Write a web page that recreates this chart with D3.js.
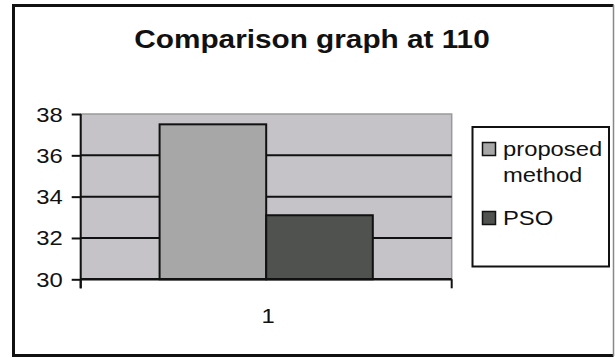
<!DOCTYPE html>
<html>
<head>
<meta charset="utf-8">
<script src="https://cdn.jsdelivr.net/npm/d3@7"></script>
<style>
  html, body { margin: 0; padding: 0; background: #fff; }
  svg { display: block; font-family: "Liberation Sans", Arial, sans-serif; }
</style>
</head>
<body>
<svg id="chart" width="615" height="358"></svg>
<script>
// Chart data
const categories = ["1"];
const seriesNames = ["proposed method", "PSO"];
const proposedValues = [37.5];
const psoValues = [33.1];
const yTicks = [30, 32, 34, 36, 38];
const gridValues = [32, 34, 36];
const seriesColors = ["#a7a7a7", "#4f524f"];
const titleText = "Comparison graph at 110";

// Text in this chart is set slightly wide
const SX = 1.19;

const svg = d3.select("#chart");

// Outer frame
svg.append("rect")
  .attr("x", 0).attr("y", 0).attr("width", 615).attr("height", 358)
  .attr("fill", "#fff");
svg.append("path")
  .attr("d", "M613.5,5.5 L13.5,5.5 L13.5,355.5 L613.5,355.5")
  .attr("fill", "none").attr("stroke", "#111").attr("stroke-width", 3);
svg.append("line")
  .attr("x1", 613.5).attr("x2", 613.5).attr("y1", 5).attr("y2", 356)
  .attr("stroke", "#888").attr("stroke-width", 1.5);

// Title
svg.append("text")
  .attr("transform", `translate(312,48) scale(${SX},1)`)
  .attr("text-anchor", "middle")
  .attr("font-size", 25)
  .attr("font-weight", "bold")
  .attr("fill", "#111")
  .text(titleText);

// Plot area
const plot = { left: 80.7, right: 451.7, top: 114, bottom: 279.3 };

const y = d3.scaleLinear().domain([30, 38]).range([plot.bottom, plot.top]);
const x0 = d3.scaleBand().domain(categories)
  .range([plot.left, plot.right]).paddingInner(0).paddingOuter(0.37);
const x1 = d3.scaleBand().domain(seriesNames)
  .range([0, x0.bandwidth()]).padding(0);
const color = d3.scaleOrdinal().domain(seriesNames).range(seriesColors);

const rows = categories.map((c, i) => ({
  category: c,
  values: [
    { name: seriesNames[0], value: proposedValues[i] },
    { name: seriesNames[1], value: psoValues[i] }
  ]
}));

svg.append("rect")
  .attr("x", plot.left).attr("y", plot.top)
  .attr("width", plot.right - plot.left).attr("height", plot.bottom - plot.top)
  .attr("fill", "#c5c3c7")
  .attr("stroke", "#9a9a9a").attr("stroke-width", 1.5);

// Horizontal gridlines
svg.append("g").selectAll("line")
  .data(gridValues).join("line")
  .attr("x1", plot.left).attr("x2", plot.right)
  .attr("y1", d => y(d)).attr("y2", d => y(d))
  .attr("stroke", "#111").attr("stroke-width", 2);

// Bars
svg.append("g").selectAll("g")
  .data(rows).join("g")
  .attr("transform", d => `translate(${x0(d.category)},0)`)
  .selectAll("rect")
  .data(d => d.values).join("rect")
  .attr("x", d => x1(d.name))
  .attr("y", d => y(d.value))
  .attr("width", x1.bandwidth())
  .attr("height", d => y(30) - y(d.value))
  .attr("fill", d => color(d.name))
  .attr("stroke", "#111").attr("stroke-width", 2);

// Y axis
const yAxis = svg.append("g")
  .attr("transform", `translate(${plot.left},0)`)
  .call(d3.axisLeft(y).tickValues(yTicks).tickSize(9).tickFormat(d3.format("d")));
yAxis.select(".domain")
  .attr("d", `M0,${plot.top}V${plot.bottom + 9}`)
  .attr("stroke", "#111").attr("stroke-width", 2);
yAxis.selectAll(".tick line").attr("stroke", "#111").attr("stroke-width", 2);
yAxis.selectAll(".tick text")
  .attr("x", null).attr("dy", null)
  .attr("transform", `translate(-18,7) scale(${SX},1)`)
  .attr("font-size", 20)
  .attr("font-family", "Liberation Sans, Arial, sans-serif")
  .attr("fill", "#111");

// X axis
const xAxis = svg.append("g")
  .attr("transform", `translate(0,${plot.bottom})`);
xAxis.append("line")
  .attr("x1", plot.left).attr("x2", plot.right)
  .attr("y1", 0).attr("y2", 0)
  .attr("stroke", "#111").attr("stroke-width", 2.5);
xAxis.selectAll("line.edge")
  .data(x0.range()).join("line")
  .attr("class", "edge")
  .attr("x1", d => d).attr("x2", d => d)
  .attr("y1", 0).attr("y2", 9)
  .attr("stroke", "#111").attr("stroke-width", 2);
xAxis.selectAll("text")
  .data(categories).join("text")
  .attr("transform", d => `translate(${x0(d) + x0.bandwidth() / 2 + 2},44) scale(${SX},1)`)
  .attr("text-anchor", "middle")
  .attr("font-size", 20)
  .attr("fill", "#111")
  .text(d => d);

// Legend
const legend = svg.append("g");
legend.append("rect")
  .attr("x", 472.5).attr("y", 127).attr("width", 136.5).attr("height", 139.5)
  .attr("fill", "#fff").attr("stroke", "#111").attr("stroke-width", 2);

const legendItems = [
  { name: seriesNames[0], lines: ["proposed", "method"], top: 142.5 },
  { name: seriesNames[1], lines: ["PSO"], top: 211.5 }
];
const item = legend.selectAll("g.item").data(legendItems).join("g").attr("class", "item");
item.append("rect")
  .attr("x", 482.5).attr("y", d => d.top)
  .attr("width", 13).attr("height", 13)
  .attr("fill", d => color(d.name))
  .attr("stroke", "#111").attr("stroke-width", 1.5);
item.each(function(d) {
  d3.select(this).selectAll("text").data(d.lines).join("text")
    .attr("transform", (t, i) => `translate(503,${d.top + 13 + i * 26}) scale(${SX},1)`)
    .attr("font-size", 20)
    .attr("fill", "#111")
    .text(t => t);
});
</script>
</body>
</html>
